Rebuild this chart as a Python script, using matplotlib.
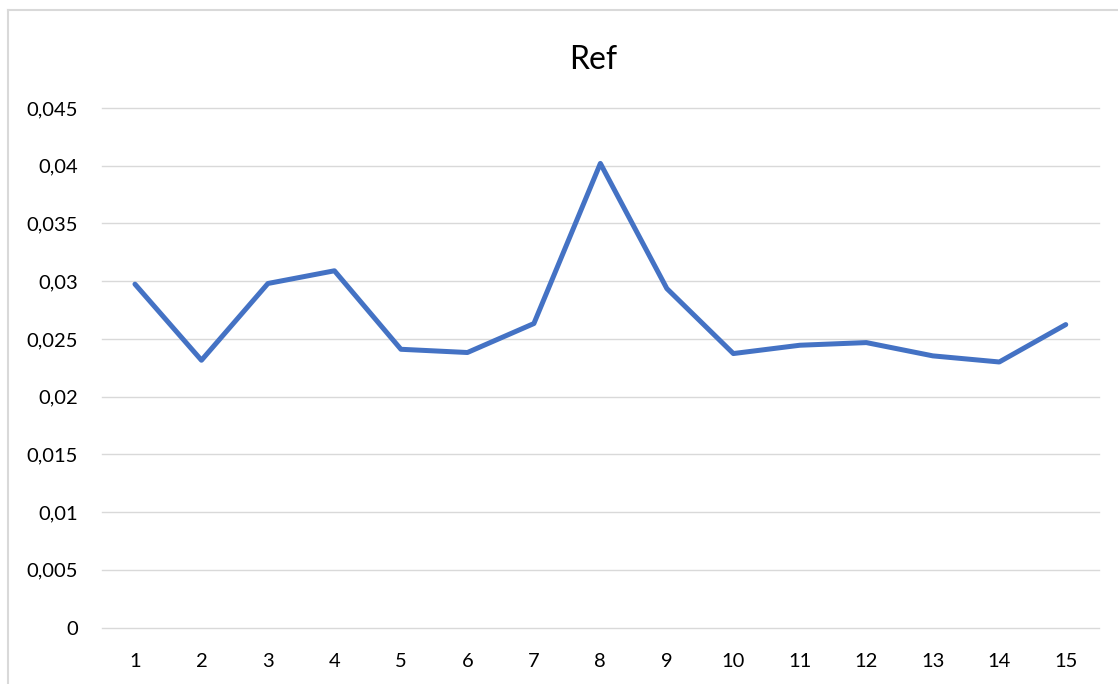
import matplotlib
matplotlib.use("Agg")
import matplotlib.pyplot as plt
from matplotlib.lines import Line2D

plt.rcParams['font.family'] = ['Lato', 'DejaVu Sans']

# Data
categories = list(range(1, 16))
ref_values = [0.02974, 0.02315, 0.0298, 0.0309, 0.0241, 0.02382, 0.02633,
              0.0402, 0.02936, 0.02373, 0.02445, 0.02468, 0.02353, 0.0230, 0.02624]
y_ticks = [0, 0.005, 0.01, 0.015, 0.02, 0.025, 0.03, 0.035, 0.04, 0.045]
y_tick_labels = ["0", "0,005", "0,01", "0,015", "0,02", "0,025", "0,03", "0,035", "0,04", "0,045"]
title = "Ref"

fig = plt.figure(figsize=(11.18, 6.84), dpi=100)
ax = fig.add_axes([0.091, 0.0826, 0.892, 0.7595])

ax.plot(categories, ref_values, color="#4472C4", linewidth=3.6,
        solid_capstyle="round", solid_joinstyle="round", zorder=3)

ax.set_xlim(0.5, 15.5)
ax.set_ylim(0, 0.045)
ax.set_xticks(categories)
ax.set_xticklabels([str(c) for c in categories])
ax.set_yticks(y_ticks)
ax.set_yticklabels(y_tick_labels)

ax.grid(axis="y", color="#D9D9D9", linewidth=1.0, zorder=0)
ax.grid(axis="x", visible=False)
for gl in ax.get_ygridlines():
    gl.set_clip_on(False)
for s in ax.spines.values():
    s.set_visible(False)
ax.tick_params(axis="both", length=0, labelsize=14.5, colors="#000000")
ax.tick_params(axis="y", pad=17)
ax.tick_params(axis="x", pad=18)

fig.text(0.531, 0.912, title, ha="center", va="center", fontsize=23, color="#000000")

# Chart area border (left and top edges)
fig.add_artist(Line2D([7.5 / 1118, 7.5 / 1118], [0, 1 - 9.5 / 684],
                      transform=fig.transFigure, color="#D9D9D9", linewidth=1.5))
fig.add_artist(Line2D([7.5 / 1118, 1], [1 - 9.5 / 684, 1 - 9.5 / 684],
                      transform=fig.transFigure, color="#D9D9D9", linewidth=1.5))

fig.savefig("out.png", dpi=100, facecolor="white")
